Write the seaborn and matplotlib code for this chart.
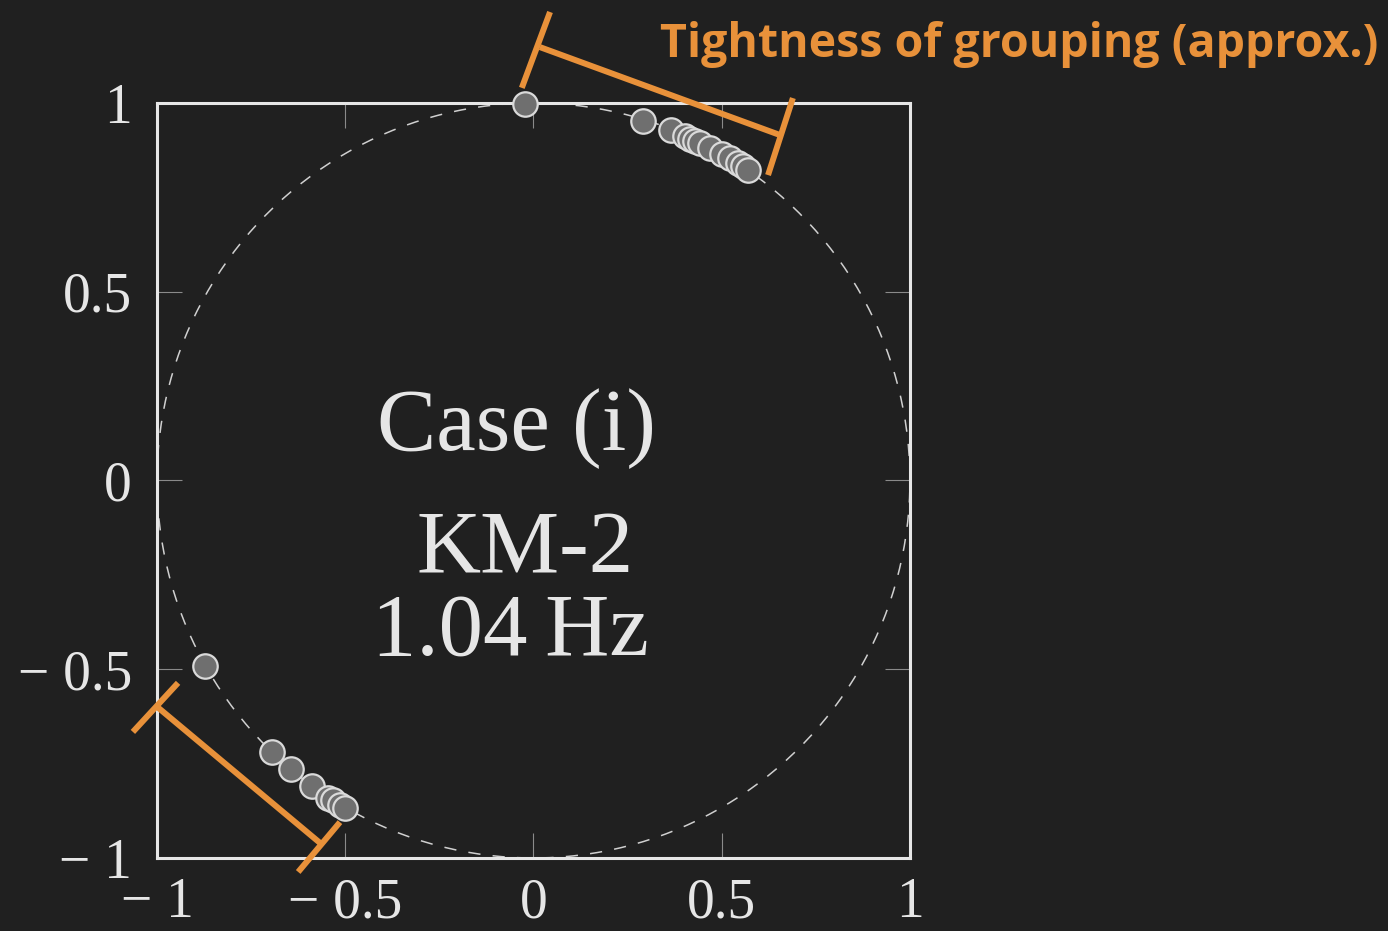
import numpy as np
import pandas as pd
import matplotlib
matplotlib.use("Agg")
import matplotlib.pyplot as plt
import seaborn as sns

# Dark presentation style
BG = "#202020"
ORANGE = "#E8913A"
LIGHT = "#E6E6E6"

top_x = [-0.023, 0.291, 0.365, 0.402, 0.416, 0.429, 0.442, 0.469, 0.501, 0.522, 0.543, 0.556, 0.570]
top_y = [0.997, 0.952, 0.928, 0.912, 0.905, 0.899, 0.894, 0.881, 0.865, 0.854, 0.841, 0.833, 0.822]
bottom_x = [-0.872, -0.695, -0.643, -0.588, -0.546, -0.533, -0.514, -0.500]
bottom_y = [-0.491, -0.719, -0.764, -0.809, -0.840, -0.846, -0.859, -0.867]

tick_values = [-1, -0.5, 0, 0.5, 1]
tick_labels = ["\u2212 1", "\u2212 0.5", "0", "0.5", "1"]

# Bracket annotations (data coordinates, drawn outside the axes)
top_bracket = [((0.017, 0.655), (1.148, 0.915)),
               ((0.044, -0.031), (1.241, 1.040)),
               ((0.689, 0.623), (1.013, 0.809))]
bottom_bracket = [((-1.005, -0.567), (-0.595, -0.960)),
                  ((-0.944, -1.064), (-0.536, -0.666)),
                  ((-0.514, -0.625), (-0.905, -1.037))]

sns.set_theme(style="dark")
plt.rcParams.update({
    "figure.facecolor": BG,
    "axes.facecolor": BG,
    "savefig.facecolor": BG,
})

points = pd.DataFrame({
    "re": top_x + bottom_x,
    "im": top_y + bottom_y,
})

fig = plt.figure(figsize=(13.88, 9.31), dpi=100)
ax = fig.add_axes([0.1131, 0.0784, 0.5425, 0.8110])

# unit circle reference
theta = np.linspace(0, 2 * np.pi, 400)
ax.plot(np.cos(theta), np.sin(theta), color="#D0D0D0", lw=1.1,
        linestyle=(0, (8, 8)), zorder=1)

sns.scatterplot(data=points, x="re", y="im", ax=ax, s=310,
                color="#6F6F6F", edgecolor="#DADADA", linewidth=1.6,
                zorder=3, clip_on=False, legend=False)

ax.set_xlim(-1, 1)
ax.set_ylim(-1, 1)
ax.set_xlabel("")
ax.set_ylabel("")
ax.set_xticks(tick_values)
ax.set_yticks(tick_values)
ax.set_xticklabels(tick_labels)
ax.set_yticklabels(tick_labels)
ax.tick_params(axis="both", direction="in", length=18, width=0.8,
               color="#8A8A8A", labelcolor=LIGHT, labelsize=40,
               top=True, right=True, bottom=True, left=True)
ax.tick_params(axis="x", pad=14)
ax.tick_params(axis="y", pad=18)
for lab in ax.get_xticklabels() + ax.get_yticklabels():
    lab.set_family("Liberation Serif")
for sp in ax.spines.values():
    sp.set_visible(True)
    sp.set_color(LIGHT)
    sp.set_linewidth(2.2)
ax.grid(False)

# centre labels
serif = dict(family=["Liberation Serif", "DejaVu Serif"], color=LIGHT,
             ha="center", va="baseline", fontsize=64)
ax.text(-0.044, 0.08, "Case (i)", **serif)
ax.text(-0.023, -0.243, "KM-2", **serif)
ax.text(-0.062, -0.462, "1.04\u2009Hz", **serif)

for xs, ys in top_bracket + bottom_bracket:
    ax.plot(xs, ys, color=ORANGE, lw=4.3, solid_capstyle="butt",
            clip_on=False, zorder=4)

fig.text(0.4755, 0.952, "Tightness of grouping (approx.)", color=ORANGE,
         fontsize=33.5, fontweight="bold", family="Open Sans",
         ha="left", va="center")

fig.savefig("out.png", dpi=100, facecolor=BG)
